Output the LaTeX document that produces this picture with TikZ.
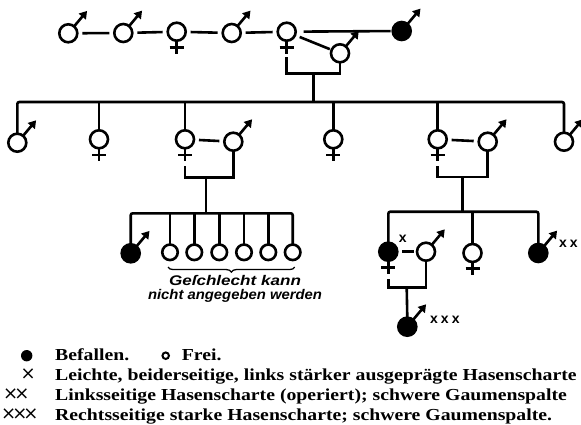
\documentclass[tikz,border=0pt]{standalone}
\usepackage{fontspec}
\setmainfont{Liberation Serif}
\setsansfont{Liberation Sans}
\newfontfamily\symfont{DejaVu Sans}
\usetikzlibrary{arrows.meta,decorations.pathreplacing,calc}
\newcommand{\legw}[1]{\scalebox{1.175}[1]{#1}}
\tikzset{
  lw/.style={line width=2.6pt},
  person/.style={circle, draw, lw, minimum size=18pt, inner sep=0pt, outer sep=0pt},
  aff/.style={person, fill=black},
  kid/.style={circle, draw, lw, minimum size=15.5pt, inner sep=0pt, outer sep=0pt},
  marrow/.style={lw, -{Triangle[length=7.5pt,width=9pt]}},
  pairline/.style={lw, shorten <=5pt, shorten >=5pt},
  famline/.style={lw, rounded corners=2pt},
  xlabel/.style={font=\sffamily\bfseries\fontsize{14}{14}\selectfont, inner sep=0pt},
  legtext/.style={anchor=base west, inner sep=0pt, font=\bfseries\fontsize{16.8}{18}\selectfont},
  legsym/.style={inner sep=0pt, font=\symfont\fontsize{18}{18}\selectfont},
  hand/.style={inner sep=0pt, align=center, font=\sffamily\bfseries\itshape\fontsize{14}{13.5}\selectfont},
}
\begin{document}
\begin{tikzpicture}[x=1pt,y=-1pt]
\useasboundingbox (0,0) rectangle (581,424);

% generation I
\node[person] (t1) at (68.3,33.3) {};
\node[person] (t2) at (123.3,33) {};
\node[person] (t3) at (176.7,31.7) {};
\node[person] (t4) at (231.7,33) {};
\node[person] (t5) at (286.7,31.7) {};
\node[person] (t6) at (340,53.3) {};
\node[aff]    (t7) at (401.7,31) {};

\draw[pairline] (t1) -- (t2);
\draw[pairline] (t2) -- (t3);
\draw[pairline] (t3) -- (t4);
\draw[pairline] (t4) -- (t5);
\draw[lw, shorten <=8pt, shorten >=2pt] (t5) -- (t7);
\draw[lw, shorten <=5pt, shorten >=2pt] (t5) -- (t6);

\coordinate (b1) at (313.3,73.3);
\coordinate (h2) at (313.3,102);
\draw[lw] (t5.south) ++(0,16.5) |- (b1) -| (t6.south);
\draw[lw] (b1) -- (h2);

% generation II
\node[person] (g1) at (17.3,142.7) {};
\node[person] (g2) at (99,139.3) {};
\node[person] (g3) at (185,139.3) {};
\node[person] (g4) at (233.3,141.7) {};
\node[person] (g5) at (333.3,139.3) {};
\node[person] (g6) at (437.7,139.3) {};
\node[person] (g7) at (487.7,141.7) {};
\node[person] (g8) at (564,141.7) {};

\draw[famline] (g1.north) |- (h2) -| (g8.north);
\foreach \n in {g2,g3,g5,g6} \draw[lw] (\n.north) -- (\n.north |- h2);
\draw[pairline] (g3) -- (g4);
\draw[pairline] (g6) -- (g7);

\coordinate (b2) at (206,177.5);
\coordinate (b3) at (462.7,177);
\draw[lw] (g3.south) ++(0,18) |- (b2) -| (g4.south);
\draw[lw] (g6.south) ++(0,18) |- (b3) -| (g7.south);

% generation III, left family
\coordinate (hl) at (206,213.3);
\node[aff] (h1) at (130.7,253.3) {};
\node[kid] (k1) at (170,252.3) {};
\node[kid] (k2) at (194.3,252.3) {};
\node[kid] (k3) at (219.3,252.3) {};
\node[kid] (k4) at (244,252.3) {};
\node[kid] (k5) at (268.3,252.3) {};
\node[kid] (k6) at (292.7,252.3) {};
\draw[lw] (b2) -- (hl);
\draw[famline] (h1.north) |- (hl) -| (k6.north);
\foreach \n in {k1,k2,k3,k4,k5} \draw[lw] (\n.north) -- (\n.north |- hl);

\draw[line width=1.3pt, decorate, decoration={brace, mirror, amplitude=5pt}] (k1.south) ++(-2,7) -- ($(k6.south)+(2,7)$);
\node[hand] (w1) at (235,289) {\scalebox{1.22}[1]{Geſchlecht kann}\\\scalebox{1.06}[1]{nicht angegeben werden}};

% generation III, right family
\coordinate (hr) at (462.7,211.7);
\node[aff]    (r1) at (388.3,251.7) {};
\node[person] (r2) at (426,251.7) {};
\node[person] (r3) at (472.5,253) {};
\node[aff]    (r4) at (538.3,253) {};
\draw[lw] (b3) -- (hr);
\draw[famline] (r1.north) |- (hr) -| (r4.north);
\draw[lw] (r3.north) -- (r3.north |- hr);
\draw[lw, shorten <=5pt, shorten >=3pt] (r1) -- (r2);

\coordinate (b4) at (406.7,287.3);
\draw[lw] (r1.south) ++(0,18.3) |- (b4) -| (r2.south);
\node[aff] (r5) at (407.3,326.7) {};
\draw[lw] (b4) -- (r5.north);

\node[xlabel] (x1) at (402.7,238.3) {x};
\node[xlabel, anchor=west] (x2) at (559,243.3) {x\hspace{3pt}x};
\node[xlabel, anchor=west] (x3) at (430,320) {x\hspace{3pt}x\hspace{3pt}x};

% female crosses and male arrows
\foreach \n in {t3,t5,g2,g3,g5,g6,r1,r3} {
  \draw[lw] (\n.south) -- ++(0,13);
  \draw[lw] ($(\n.south)+(-7,6.5)$) -- ++(14,0);
}
\foreach \n in {t1,t2,t4,t6,t7,g1,g4,g7,g8,h1,r2,r4,r5}
  \draw[marrow] (\n.50) -- ++(13,-15.5);

% legend
\node[circle, fill=black, minimum size=11.4pt, inner sep=0pt] (l1) at (26.7,355.7) {};
\node[legtext] (lt1) at (55,360) {\legw{Befallen.}};
\node[circle, draw, line width=2pt, minimum size=6.5pt, inner sep=0pt] (l2) at (165.7,355.7) {};
\node[legtext] (lt2) at (181.7,360) {\legw{Frei.}};
\node[legsym, anchor=east] (l3) at (36,374.3) {×};
\node[legtext] (lt3) at (55,380) {\legw{Leichte, beiderseitige, links stärker ausgeprägte Hasenscharte}};
\node[legsym, anchor=west] (l4) at (3,394.5) {×\kern-4pt×};
\node[legtext] (lt4) at (55,400.5) {\legw{Linksseitige Hasenscharte (operiert); schwere Gaumenspalte}};
\node[legsym, anchor=west] (l5) at (1,414.5) {×\kern-4pt×\kern-4pt×};
\node[legtext] (lt5) at (55,420.5) {\legw{Rechtsseitige starke Hasenscharte; schwere Gaumenspalte.}};
\end{tikzpicture}
\end{document}
